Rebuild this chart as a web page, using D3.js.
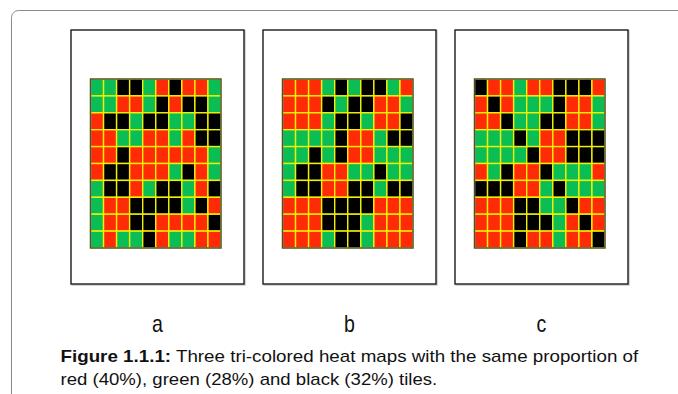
<!DOCTYPE html>
<html>
<head>
<meta charset="utf-8">
<script src="https://cdn.jsdelivr.net/npm/d3@7"></script>
<style>
  body { margin: 0; background: #fff; }
  svg { display: block; }
</style>
</head>
<body>
<div class="fig"></div>
<script>
// tile codes: R = red, G = green, K = black
var tileKeys = ['R', 'G', 'K'];
var tileColors = ['#ff2a06', '#0bbd55', '#000000'];
var panelLabels = ['a', 'b', 'c'];

var gridA = [
    'GGKKGRKRRG',
    'GGRRGKRKKG',
    'RKKGKKGGKK',
    'RRGGRRGRKK',
    'RRKRRRRRRG',
    'RKKRRRGKRG',
    'GKKRGKKGRK',
    'GRRKKKKGKR',
    'GRRKKRRRRK',
    'GRGGKRGGRR'
];
var gridB = [
    'RRRGKGKKGR',
    'RRRKGKKRRG',
    'RRRGKKGRRK',
    'GGGGKRRGKK',
    'GGKGKRRGGG',
    'GKKRRGGKGG',
    'GKKRRKKGKK',
    'RRRKKKKRRR',
    'RRRKKKGRRR',
    'RRRGKKGRRR'
];
var gridC = [
    'KRRGRRKKKR',
    'RKRGGGKRRG',
    'RRKGGKKRRG',
    'GGGKGRRKKK',
    'GGGGKRRKKK',
    'RGKRRKGGGR',
    'KKKRRGKGGG',
    'RRRKKGGKRR',
    'RRRKKKGRKR',
    'RRRKRRGRRK'
];
var grids = [gridA, gridB, gridC];

var captionBold = 'Figure 1.1.1:';
var captionRest = ' Three tri-colored heat maps with the same proportion of';
var captionLine2 = 'red (40%), green (28%) and black (32%) tiles.';

var W = 678, H = 394;
var svg = d3.select('.fig')
    .append('svg')
    .attr('width', W)
    .attr('height', H);

// outer frame, runs off the right and bottom edge
svg.append('rect')
    .attr('x', 11.5)
    .attr('y', 10.5)
    .attr('width', 720)
    .attr('height', 420)
    .attr('rx', 7)
    .attr('fill', 'none')
    .attr('stroke', '#8a8a8a')
    .attr('stroke-width', 1);

var color = d3.scaleOrdinal().domain(tileKeys).range(tileColors);

var panelW = 173, panelTop = 30, panelH = 254;
var gridOffX = 19.5, gridOffY = 49, gridW = 130.5, gridH = 169;

panelLabels.forEach(function(lab, i) {
    var px = 71 + i * 192;
    var g = svg.append('g').attr('transform', 'translate(' + px + ',' + panelTop + ')');

    // light shadow then frame
    g.append('rect')
        .attr('x', 1).attr('y', 1)
        .attr('width', panelW).attr('height', panelH)
        .attr('fill', 'none')
        .attr('stroke', '#c8c8c8')
        .attr('stroke-width', 1.5);
    g.append('rect')
        .attr('x', 0).attr('y', 0)
        .attr('width', panelW).attr('height', panelH)
        .attr('fill', '#fff')
        .attr('stroke', '#2a2a2a')
        .attr('stroke-width', 1.5);

    var rows = grids[i];
    var x = d3.scaleBand().domain(d3.range(rows[0].length)).range([gridOffX, gridOffX + gridW]);
    var y = d3.scaleBand().domain(d3.range(rows.length)).range([gridOffY, gridOffY + gridH]);

    var cells = [];
    rows.forEach(function(r, ri) {
        r.split('').forEach(function(c, ci) {
            cells.push({ row: ri, col: ci, key: c });
        });
    });

    g.selectAll('rect.cell')
        .data(cells)
        .enter()
        .append('rect')
        .attr('class', 'cell')
        .attr('x', function(d) { return x(d.col); })
        .attr('y', function(d) { return y(d.row); })
        .attr('width', x.bandwidth())
        .attr('height', y.bandwidth())
        .attr('fill', function(d) { return color(d.key); })
        .attr('stroke', '#f2f200')
        .attr('stroke-width', 1.4);

    // dark border round the grid
    g.append('rect')
        .attr('x', gridOffX).attr('y', gridOffY)
        .attr('width', gridW).attr('height', gridH)
        .attr('fill', 'none')
        .attr('stroke', '#4a4a4a')
        .attr('stroke-width', 1.4);

    // panel letter, a bit condensed like the original
    var cx = px + panelW / 2;
    svg.append('text')
        .attr('x', 0)
        .attr('y', 0)
        .attr('transform', 'translate(' + cx + ',332) scale(0.85,1)')
        .attr('text-anchor', 'middle')
        .style('font-family', '"Liberation Sans", Arial, sans-serif')
        .style('font-size', '23px')
        .style('fill', '#111')
        .text(lab);
});

// caption, squeezed to the widths seen in the figure
function captionLine(yPos, width, parts) {
    var t = svg.append('text')
        .attr('x', 0)
        .attr('y', yPos)
        .style('font-family', '"Liberation Sans", Arial, sans-serif')
        .style('font-size', '16px')
        .style('fill', '#111');
    parts.forEach(function(p) {
        t.append('tspan')
            .style('font-weight', p.bold ? 'bold' : 'normal')
            .text(p.text);
    });
    var len = t.node().getComputedTextLength();
    t.attr('transform', 'translate(60.5,0) scale(' + (width / len) + ',1)');
}
captionLine(362, 578, [{ text: captionBold, bold: true }, { text: captionRest }]);
captionLine(385, 377, [{ text: captionLine2 }]);
</script>
</body>
</html>
